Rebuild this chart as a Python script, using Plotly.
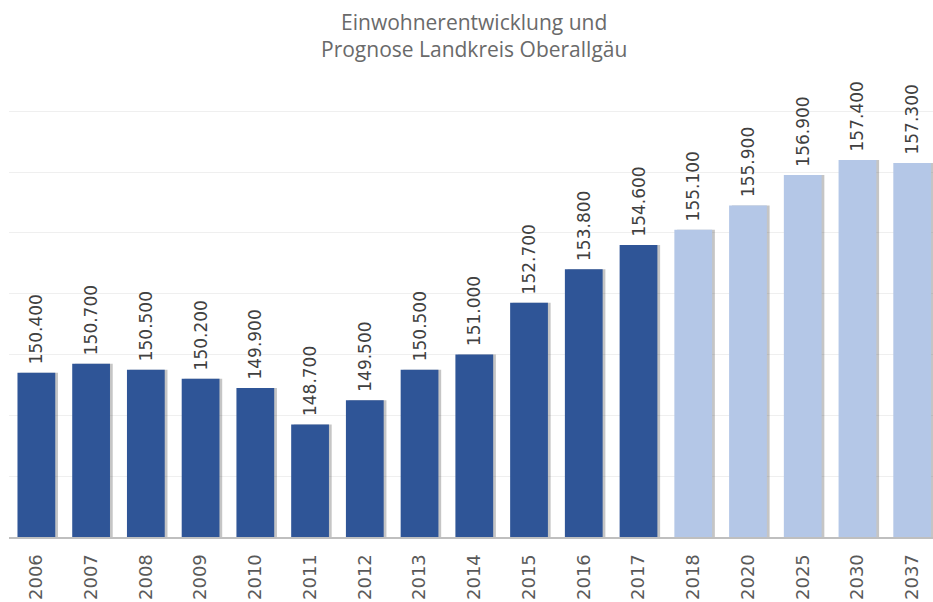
import plotly.graph_objects as go

years = ["2006", "2007", "2008", "2009", "2010", "2011", "2012", "2013", "2014",
         "2015", "2016", "2017", "2018", "2020", "2025", "2030", "2037"]
population = [150400, 150700, 150500, 150200, 149900, 148700, 149500, 150500, 151000,
              152700, 153800, 154600, 155100, 155900, 156900, 157400, 157300]
is_forecast = [False] * 12 + [True] * 5

dark = "#2F5597"
light = "#B4C7E7"
colors = [light if f else dark for f in is_forecast]

bw = 0.69
fig = go.Figure()
# soft shadow behind bars
fig.add_trace(go.Bar(
    x=years, y=population, width=bw, offset=-bw / 2 + 0.05,
    marker=dict(color="rgba(90,90,90,0.35)", line=dict(width=0)),
    hoverinfo="skip", showlegend=False,
))
fig.add_trace(go.Bar(
    x=years, y=population, width=bw, offset=-bw / 2,
    marker=dict(color=colors, line=dict(width=0)),
    texttemplate="\u00a0%{y:,.0f}", textposition="outside", textangle=-90,
    constraintext="none",
    textfont=dict(family="DejaVu Sans, Verdana, sans-serif", size=17, color="#404040"),
    cliponaxis=False, showlegend=False,
))

fig.update_layout(
    width=933, height=602,
    margin=dict(l=9, r=0, t=110, b=65),
    paper_bgcolor="white", plot_bgcolor="white",
    barmode="overlay",
    separators=",.",
    xaxis=dict(
        type="category", range=[-0.5, 16.38], automargin=False,
        showline=True, linecolor="#BFBFBF", linewidth=2,
        tickangle=-90, ticks="", ticklabelstandoff=8,
        tickfont=dict(family="DejaVu Sans, Verdana, sans-serif", size=18, color="#595959"),
        showgrid=False, zeroline=False,
    ),
    yaxis=dict(
        range=[145000, 159040], dtick=2000, tick0=145000, automargin=False,
        showticklabels=False, showgrid=True, gridcolor="#EFEFEF", gridwidth=1,
        zeroline=False, showline=False,
    ),
    annotations=[dict(
        text="Einwohnerentwicklung und<br>Prognose Landkreis Oberallgäu",
        xref="paper", yref="paper", x=0.503, y=1, yshift=104, yanchor="top",
        showarrow=False, align="center",
        font=dict(family="Open Sans, sans-serif", size=21, color="#6A6A6A"),
    )],
)

fig.write_html("out.html", config={"displayModeBar": False},
               post_script="document.body.style.margin='0';document.body.style.overflow='hidden';")
